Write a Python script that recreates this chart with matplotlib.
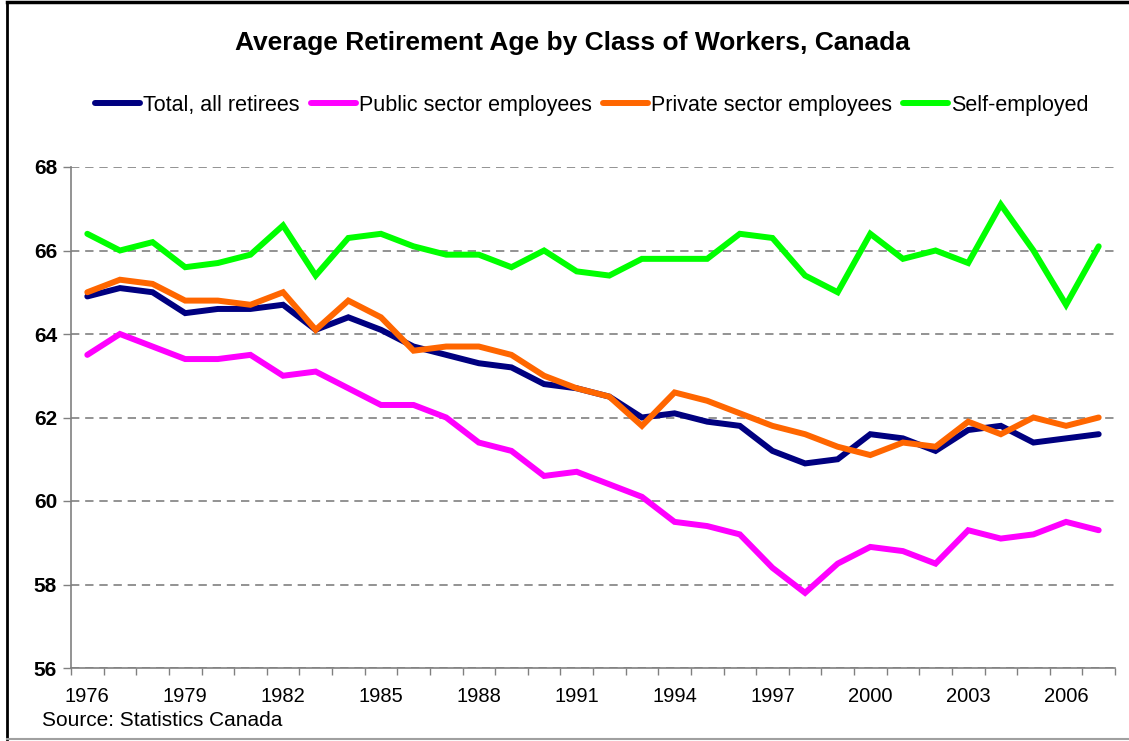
import numpy as np
import matplotlib
matplotlib.use("Agg")
import matplotlib.pyplot as plt
from matplotlib.lines import Line2D

plt.rcParams['font.family'] = ['Liberation Sans', 'DejaVu Sans']

years = list(range(1976, 2008))
total = [64.9, 65.1, 65.0, 64.5, 64.6, 64.6, 64.7, 64.1, 64.4, 64.1, 63.7, 63.5,
         63.3, 63.2, 62.8, 62.7, 62.5, 62.0, 62.1, 61.9, 61.8, 61.2, 60.9, 61.0,
         61.6, 61.5, 61.2, 61.7, 61.8, 61.4, 61.5, 61.6]
public = [63.5, 64.0, 63.7, 63.4, 63.4, 63.5, 63.0, 63.1, 62.7, 62.3, 62.3, 62.0,
          61.4, 61.2, 60.6, 60.7, 60.4, 60.1, 59.5, 59.4, 59.2, 58.4, 57.8, 58.5,
          58.9, 58.8, 58.5, 59.3, 59.1, 59.2, 59.5, 59.3]
private = [65.0, 65.3, 65.2, 64.8, 64.8, 64.7, 65.0, 64.1, 64.8, 64.4, 63.6, 63.7,
           63.7, 63.5, 63.0, 62.7, 62.5, 61.8, 62.6, 62.4, 62.1, 61.8, 61.6, 61.3,
           61.1, 61.4, 61.3, 61.9, 61.6, 62.0, 61.8, 62.0]
selfemp = [66.4, 66.0, 66.2, 65.6, 65.7, 65.9, 66.6, 65.4, 66.3, 66.4, 66.1, 65.9,
           65.9, 65.6, 66.0, 65.5, 65.4, 65.8, 65.8, 65.8, 66.4, 66.3, 65.4, 65.0,
           66.4, 65.8, 66.0, 65.7, 67.1, 66.0, 64.7, 66.1]

series = [("Total, all retirees", total, "#000080"),
          ("Public sector employees", public, "#FF00FF"),
          ("Private sector employees", private, "#FF6600"),
          ("Self-employed", selfemp, "#00FF00")]

W, H = 1129, 741
fig = plt.figure(figsize=(W / 100, H / 100), dpi=100)
ax = fig.add_axes([71 / W, 1 - 668 / H, (1115 - 71) / W, (668 - 167) / H])

x = np.arange(len(years))
for name, vals, col in series:
    ax.plot(x, vals, color=col, lw=4.3, label=name, solid_capstyle='round',
            solid_joinstyle='miter')

ax.set_xlim(-0.5, len(years) - 0.5)
ax.set_ylim(56, 68)
ax.set_yticks(range(56, 69, 2))
ax.tick_params(axis='y', labelsize=15, length=6, color='#808080', width=1, pad=4)
for t in ax.get_yticklabels():
    t.set_fontweight('bold')

ax.set_xticks(x[::3])
ax.set_xticklabels([str(y) for y in years[::3]], fontsize=14.5)
ax.set_xticks(np.arange(-0.5, len(years)), minor=True)
ax.tick_params(axis='x', which='major', length=0, pad=14)
ax.tick_params(axis='x', which='minor', length=5, color='#808080', width=1)

ax.yaxis.grid(True, color='#808080', linestyle=(0, (5, 3.5)), lw=1.2)
ax.set_axisbelow(True)
for s in ['top', 'right']:
    ax.spines[s].set_visible(False)
for s in ['left', 'bottom']:
    ax.spines[s].set_color('#808080')
    ax.spines[s].set_linewidth(1.2)

fig.text(572 / W, 1 - 43 / H, "Average Retirement Age by Class of Workers, Canada",
         ha='center', va='center', fontsize=19, fontweight='bold')
fig.legend(loc='center', bbox_to_anchor=(592 / W, 1 - 105 / H), ncol=4,
           frameon=False, fontsize=15.5, handlelength=2.1, handletextpad=0.15,
           columnspacing=0.5)
fig.text(42 / W, 1 - 720 / H, "Source: Statistics Canada", ha='left',
         va='center', fontsize=15)

# outer frame
fig.add_artist(Line2D([7 / W, 7 / W], [1 - 739 / H, 1 - 2 / H], color='black',
                      lw=2, transform=fig.transFigure))
fig.add_artist(Line2D([7 / W, 1], [1 - 2 / H, 1 - 2 / H], color='black',
                      lw=2.5, transform=fig.transFigure))
fig.add_artist(Line2D([7 / W, 1], [1 - 739 / H, 1 - 739 / H], color='#a0a0a0',
                      lw=1.5, transform=fig.transFigure))

fig.savefig("out.png", dpi=100)
